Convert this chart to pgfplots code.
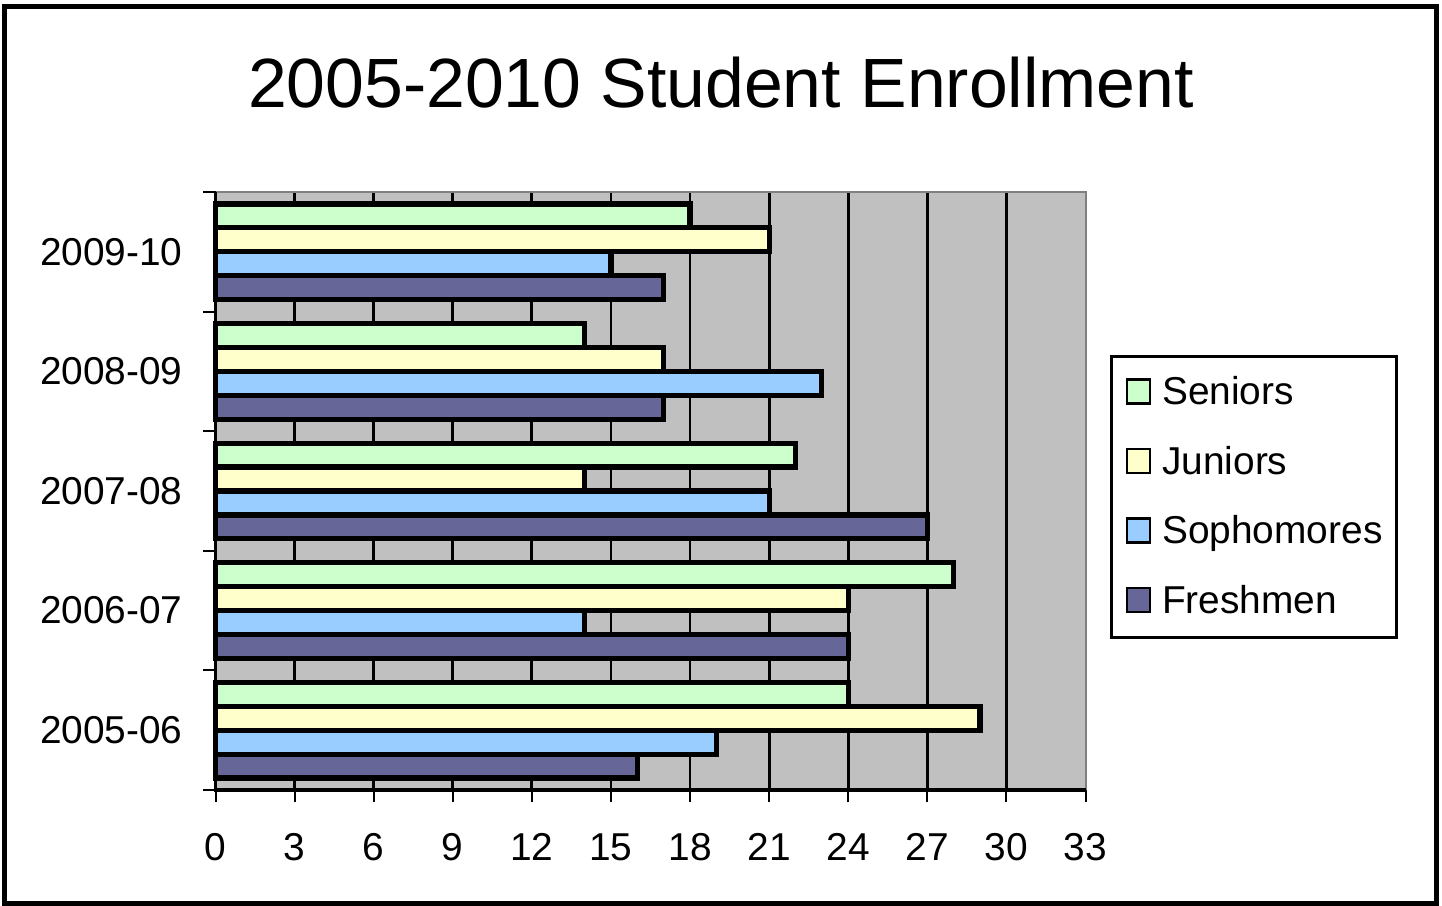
\documentclass[border=0pt]{standalone}
\usepackage{fontspec}
\setmainfont{Liberation Sans}
\usepackage{pgfplots}
\pgfplotsset{compat=1.18}

\definecolor{seniors}{HTML}{CCFFCC}
\definecolor{juniors}{HTML}{FFFFCC}
\definecolor{sophs}{HTML}{99CCFF}
\definecolor{freshmen}{HTML}{666699}
\definecolor{plotbg}{HTML}{C0C0C0}
\definecolor{edgegray}{HTML}{808080}

\newcommand{\lblfont}{\fontsize{19.5}{23}\selectfont}

\begin{document}
\begin{tikzpicture}
\path[use as bounding box] (0,0) rectangle (721bp,-453bp);
% chart frame
\draw[line width=2.5bp] (2.25bp,-3bp) rectangle (718bp,-451.75bp);
% title
\node[anchor=base, font=\fontsize{35}{42}\selectfont] at (360.5bp,-53.5bp) {2005-2010 Student Enrollment};

\begin{axis}[
    at={(107.75bp,-395bp)}, anchor=south west,
    width=435bp, height=299bp, scale only axis,
    xmin=0, xmax=33, ymin=-0.5, ymax=4.5,
    xtick={0,3,...,33},
    ytick={0,...,4},
    yticklabels={2005-06,2006-07,2007-08,2008-09,2009-10},
    extra x ticks={3,6,...,30},
    extra x tick labels={},
    extra x tick style={grid=major},
    grid style={black, line width=1.4bp},
    tick pos=left, tick align=outside,
    major tick length=6bp,
    xtick style={black, line width=1bp},
    ytick style={draw=none},
    axis line style={draw=none},
    axis background/.style={fill=plotbg},
    /pgf/number format/assume math mode=true,
    tick label style={font=\lblfont},
    xticklabel style={anchor=north, inner sep=0pt, yshift=-15.5bp},
    yticklabel style={anchor=east, inner sep=0pt, xshift=-10.25bp},
    xbar, bar width=0.2,
    clip=false,
    legend cell align=left,
    legend image code/.code={\draw[#1, line width=1.1bp] (0bp,-5.5bp) rectangle (11.5bp,6.5bp);},
    legend style={at={(1.0287,0.7274)}, anchor=north west, draw=black, line width=1.5bp,
        inner xsep=7bp, inner ysep=9bp, row sep=16.75bp, column sep=5.5bp, font=\lblfont,
        nodes={inner sep=0pt, text height=15bp, text depth=3bp}},
]
\addplot[bar shift=0.3, fill=seniors, draw=black, line width=2.6bp]
    coordinates {(24,0) (28,1) (22,2) (14,3) (18,4)};
\addlegendentry{Seniors}
\addplot[bar shift=0.1, fill=juniors, draw=black, line width=2.6bp]
    coordinates {(29,0) (24,1) (14,2) (17,3) (21,4)};
\addlegendentry{Juniors}
\addplot[bar shift=-0.1, fill=sophs, draw=black, line width=2.6bp]
    coordinates {(19,0) (14,1) (21,2) (23,3) (15,4)};
\addlegendentry{Sophomores}
\addplot[bar shift=-0.3, fill=freshmen, draw=black, line width=2.6bp]
    coordinates {(16,0) (24,1) (27,2) (17,3) (17,4)};
\addlegendentry{Freshmen}

% plot area edges
\draw[edgegray, line width=1bp] (rel axis cs:0,1) -- (rel axis cs:1,1) -- (rel axis cs:1,0);
\draw[black, line width=1.75bp] (rel axis cs:0,1) -- (rel axis cs:0,0) -- (rel axis cs:1,0);
% category separator ticks
\pgfplotsinvokeforeach{-0.5,0.5,1.5,2.5,3.5,4.5}{
    \draw[black, line width=1bp] (axis cs:0,#1) -- ([xshift=-6bp]axis cs:0,#1);
}
\end{axis}
\end{tikzpicture}
\end{document}
